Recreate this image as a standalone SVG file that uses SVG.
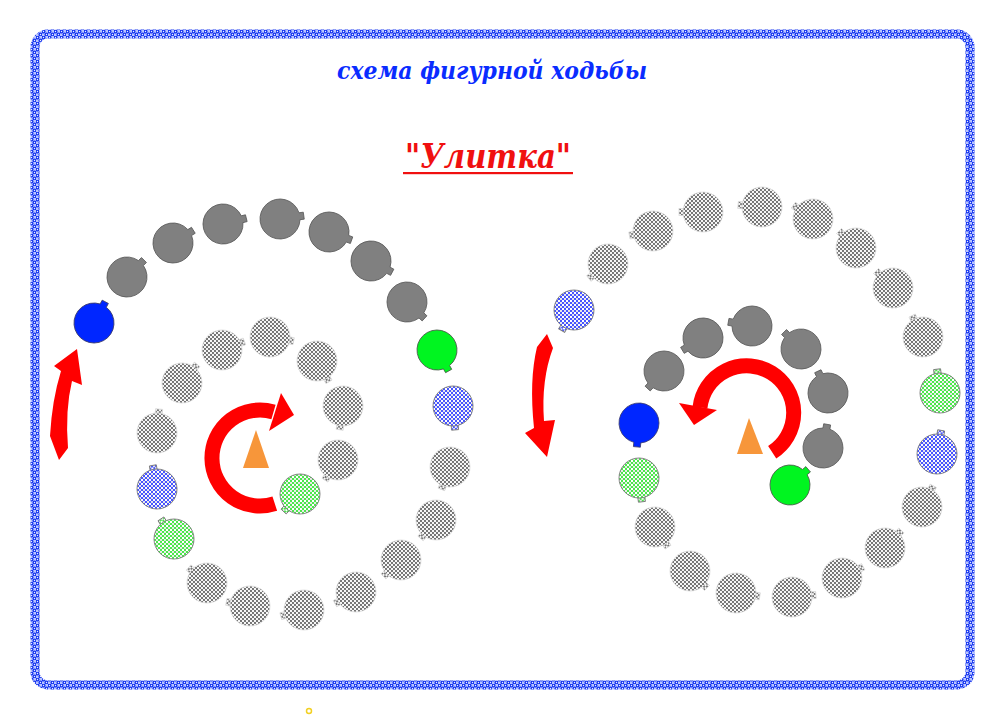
<svg xmlns="http://www.w3.org/2000/svg" xmlns:xlink="http://www.w3.org/1999/xlink" width="1002" height="720" viewBox="0 0 1002 720">
<style>
.g{fill:#808080;stroke:#5a5a5a;stroke-width:0.8}
.b{fill:#0026ff;stroke:#3a3a6a;stroke-width:0.8}
.gr{fill:#00f520;stroke:#4a5a4a;stroke-width:0.8}
.dg{fill:url(#pg);stroke:#dadada;stroke-width:0.8}
.db{fill:url(#pbl);stroke:#7a7a7a;stroke-width:0.9}
.dgr{fill:url(#pgr);stroke:#7a7a7a;stroke-width:0.9}
.arc{fill:none;stroke:#ff0000;stroke-width:15}
.head{fill:#ff0000}
.tri{fill:#f7963a}
.t1{font-family:"DejaVu Serif","Liberation Serif",serif;font-weight:bold;font-style:italic;font-size:25px;fill:#0a2cff}
.t2{font-family:"DejaVu Serif","Liberation Serif",serif;font-weight:bold;font-style:italic;font-size:33px;fill:#f01010}
</style>
<defs>
<pattern id="pg" width="4" height="4" patternUnits="userSpaceOnUse"><rect width="4" height="4" fill="#f6f6f6"/><circle cx="1" cy="1" r="0.9" fill="#3a3a3a"/><circle cx="3" cy="3" r="0.9" fill="#3a3a3a"/></pattern>
<pattern id="pbl" width="4" height="4" patternUnits="userSpaceOnUse"><rect width="4" height="4" fill="#fff"/><circle cx="1" cy="1" r="1" fill="#0a1cff"/><circle cx="3" cy="3" r="1" fill="#0a1cff"/><circle cx="3" cy="1" r="0.45" fill="#334"/></pattern>
<pattern id="pgr" width="4" height="4" patternUnits="userSpaceOnUse"><rect width="4" height="4" fill="#fff"/><circle cx="1" cy="1" r="1" fill="#10e010"/><circle cx="3" cy="3" r="1" fill="#10e010"/><circle cx="3" cy="1" r="0.45" fill="#444"/></pattern>
<pattern id="pb" width="6" height="6" patternUnits="userSpaceOnUse"><rect width="6" height="6" fill="#b8c4ff"/><circle cx="1.5" cy="1.5" r="2" fill="#1434f0"/><circle cx="4.5" cy="4.5" r="2" fill="#1434f0"/><circle cx="1.5" cy="1.5" r="0.7" fill="#eef"/><circle cx="4.5" cy="4.5" r="0.7" fill="#eef"/></pattern>
<path id="nd" d="M19.69 -3.5 L24 -3.5 L24 3.5 L19.69 3.5 A20 20 0 1 1 19.69 -3.5 Z"/>
<rect id="nub" x="16" y="-3.5" width="8" height="7"/>
<circle id="body" r="20"/>
</defs>
<rect width="1002" height="720" fill="#fff"/>
<rect id="frame" x="35" y="34" width="935" height="651" rx="13" fill="#fff" stroke="url(#pb)" stroke-width="9"/>
<circle cx="309" cy="711" r="2.5" fill="none" stroke="#f2d024" stroke-width="1.5"/>
<text class="t1" x="492" y="79" text-anchor="middle" textLength="310" lengthAdjust="spacingAndGlyphs">схема фигурной ходьбы</text>
<text class="t2" x="488" y="168" text-anchor="middle" textLength="166" lengthAdjust="spacingAndGlyphs">"Улитка"</text>
<rect x="403" y="172" width="170" height="2.2" fill="#f01010"/>
<g id="left-group">
<g id="L01" transform="translate(94,323) rotate(-62)"><use href="#nd" class="b"/></g>
<g id="L02" transform="translate(127,277) rotate(-45)"><use href="#nd" class="g"/></g>
<g id="L03" transform="translate(173,243) rotate(-32)"><use href="#nd" class="g"/></g>
<g id="L04" transform="translate(223,224) rotate(-14)"><use href="#nd" class="g"/></g>
<g id="L05" transform="translate(280,219) rotate(-8)"><use href="#nd" class="g"/></g>
<g id="L06" transform="translate(329,232) rotate(20)"><use href="#nd" class="g"/></g>
<g id="L07" transform="translate(371,261) rotate(28)"><use href="#nd" class="g"/></g>
<g id="L08" transform="translate(407,302) rotate(43)"><use href="#nd" class="g"/></g>
<g id="L09" transform="translate(437,350) rotate(61)"><use href="#nd" class="gr"/></g>
<g id="L10" class="db" transform="translate(453,406)"><use href="#nub" transform="rotate(85)"/><use href="#body"/></g>
<g id="L11" class="dg" transform="translate(450,467)"><use href="#nub" transform="rotate(111)"/><use href="#body"/></g>
<g id="L12" class="dg" transform="translate(436,520)"><use href="#nub" transform="rotate(130)"/><use href="#body"/></g>
<g id="L13" class="dg" transform="translate(401,560)"><use href="#nub" transform="rotate(137)"/><use href="#body"/></g>
<g id="L14" class="dg" transform="translate(356,592)"><use href="#nub" transform="rotate(151)"/><use href="#body"/></g>
<g id="L15" class="dg" transform="translate(304,610)"><use href="#nub" transform="rotate(165)"/><use href="#body"/></g>
<g id="L16" class="dg" transform="translate(250,606)"><use href="#nub" transform="rotate(190)"/><use href="#body"/></g>
<g id="L17" class="dg" transform="translate(207,583)"><use href="#nub" transform="rotate(-140)"/><use href="#body"/></g>
<g id="L18" class="dgr" transform="translate(174,539)"><use href="#nub" transform="rotate(-123)"/><use href="#body"/></g>
<g id="L19" class="db" transform="translate(157,489)"><use href="#nub" transform="rotate(-100)"/><use href="#body"/></g>
<g id="L20" class="dg" transform="translate(157,433)"><use href="#nub" transform="rotate(-85)"/><use href="#body"/></g>
<g id="L21" class="dg" transform="translate(182,383)"><use href="#nub" transform="rotate(-51)"/><use href="#body"/></g>
<g id="L22" class="dg" transform="translate(222,350)"><use href="#nub" transform="rotate(-21)"/><use href="#body"/></g>
<g id="L23" class="dg" transform="translate(270,337)"><use href="#nub" transform="rotate(10)"/><use href="#body"/></g>
<g id="L24" class="dg" transform="translate(317,361)"><use href="#nub" transform="rotate(60)"/><use href="#body"/></g>
<g id="L25" class="dg" transform="translate(343,406)"><use href="#nub" transform="rotate(98)"/><use href="#body"/></g>
<g id="L26" class="dg" transform="translate(338,460)"><use href="#nub" transform="rotate(123)"/><use href="#body"/></g>
<g id="L27" class="dgr" transform="translate(300,494)"><use href="#nub" transform="rotate(133)"/><use href="#body"/></g>
<g id="L-center"><polygon class="tri" points="256,430 243,468 269,468"/></g>
</g>
<g id="right-group">
<g id="R01" class="db" transform="translate(574,310)"><use href="#nub" transform="rotate(121)"/><use href="#body"/></g>
<g id="R02" class="dg" transform="translate(608,264)"><use href="#nub" transform="rotate(143)"/><use href="#body"/></g>
<g id="R03" class="dg" transform="translate(653,231)"><use href="#nub" transform="rotate(169)"/><use href="#body"/></g>
<g id="R04" class="dg" transform="translate(703,212)"><use href="#nub" transform="rotate(180)"/><use href="#body"/></g>
<g id="R05" class="dg" transform="translate(762,207)"><use href="#nub" transform="rotate(185)"/><use href="#body"/></g>
<g id="R06" class="dg" transform="translate(813,219)"><use href="#nub" transform="rotate(-145)"/><use href="#body"/></g>
<g id="R07" class="dg" transform="translate(856,248)"><use href="#nub" transform="rotate(-135)"/><use href="#body"/></g>
<g id="R08" class="dg" transform="translate(893,288)"><use href="#nub" transform="rotate(-135)"/><use href="#body"/></g>
<g id="R09" class="dg" transform="translate(923,337)"><use href="#nub" transform="rotate(-117)"/><use href="#body"/></g>
<g id="R10" class="dgr" transform="translate(940,393)"><use href="#nub" transform="rotate(-97)"/><use href="#body"/></g>
<g id="R11" class="db" transform="translate(937,454)"><use href="#nub" transform="rotate(-80)"/><use href="#body"/></g>
<g id="R12" class="dg" transform="translate(922,507)"><use href="#nub" transform="rotate(-62)"/><use href="#body"/></g>
<g id="R13" class="dg" transform="translate(885,548)"><use href="#nub" transform="rotate(-47)"/><use href="#body"/></g>
<g id="R14" class="dg" transform="translate(842,578)"><use href="#nub" transform="rotate(-28)"/><use href="#body"/></g>
<g id="R15" class="dg" transform="translate(792,597)"><use href="#nub" transform="rotate(-5)"/><use href="#body"/></g>
<g id="R16" class="dg" transform="translate(736,593)"><use href="#nub" transform="rotate(8)"/><use href="#body"/></g>
<g id="R17" class="dg" transform="translate(690,571)"><use href="#nub" transform="rotate(45)"/><use href="#body"/></g>
<g id="R18" class="dg" transform="translate(655,527)"><use href="#nub" transform="rotate(57)"/><use href="#body"/></g>
<g id="R19" class="dgr" transform="translate(639,478)"><use href="#nub" transform="rotate(83)"/><use href="#body"/></g>
<g id="R20" transform="translate(639,423) rotate(95)"><use href="#nd" class="b"/></g>
<g id="R21" transform="translate(664,371) rotate(133)"><use href="#nd" class="g"/></g>
<g id="R22" transform="translate(703,338) rotate(149)"><use href="#nd" class="g"/></g>
<g id="R23" transform="translate(752,326) rotate(190)"><use href="#nd" class="g"/></g>
<g id="R24" transform="translate(801,349) rotate(-135)"><use href="#nd" class="g"/></g>
<g id="R25" transform="translate(828,393) rotate(-115)"><use href="#nd" class="g"/></g>
<g id="R26" transform="translate(823,448) rotate(-80)"><use href="#nd" class="g"/></g>
<g id="R27" transform="translate(790,485) rotate(-41)"><use href="#nd" class="gr"/></g>
<g id="R-center"><polygon class="tri" points="749,418 737,454 763,454"/></g>
</g>
<g id="connectors">
<path class="arc" d="M274.8 503.7 A48 48 0 1 1 273.5 412"/>
<polygon class="head" points="281,393 294,415 269,431"/>
<path class="arc" d="M772.2 452.3 A47 47 0 1 0 700 407.5"/>
<polygon class="head" points="679,403 694,425 717,410"/>
<path class="head" d="M59 460 L68 448 Q65 410 72 381 L82 385 L77 349 L54 366 L61 371 Q52 400 50 436 Z"/>
<path class="head" d="M547 334 L553 348 Q541 380 544 421 L555 420 L547 457 L525 433 L534 428 Q529 380 537 347 Z"/>
</g>
</svg>
